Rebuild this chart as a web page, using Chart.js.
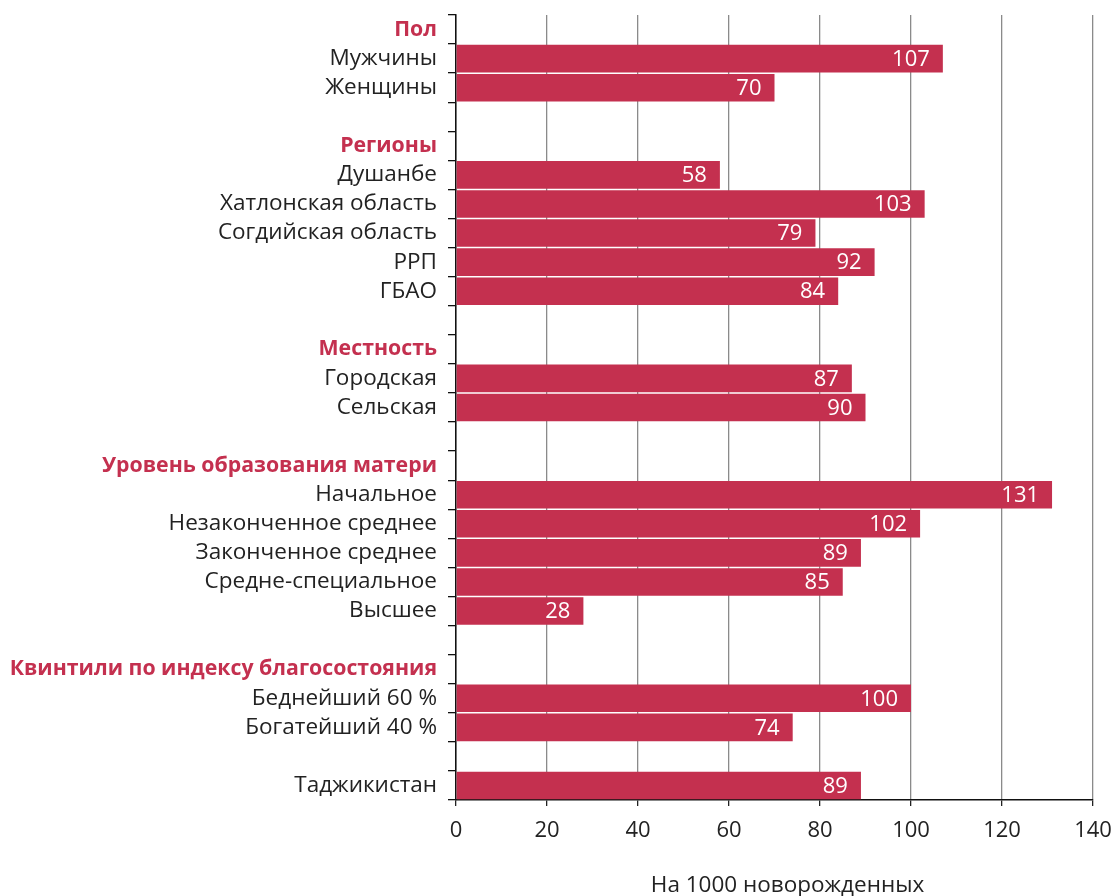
<!DOCTYPE html>
<html>
<head>
<meta charset="utf-8">
<script src="https://cdn.jsdelivr.net/npm/chart.js@4/dist/chart.umd.min.js"></script>
<style>
  html, body { margin: 0; padding: 0; background: #fff; }
  #wrap { width: 1116px; height: 896px; }
</style>
</head>
<body>
<div id="wrap"><canvas id="myChart" width="1116" height="896"></canvas></div>
<script>
"use strict";

// rows from top to bottom; '' rows are spacers between groups
const categories = [
    'Пол', 'Мужчины', 'Женщины', '',
    'Регионы', 'Душанбе', 'Хатлонская область', 'Согдийская область', 'РРП', 'ГБАО', '',
    'Местность', 'Городская', 'Сельская', '',
    'Уровень образования матери', 'Начальное', 'Незаконченное среднее', 'Законченное среднее',
    'Средне-специальное', 'Высшее', '',
    'Квинтили по индексу благосостояния', 'Беднейший 60 %', 'Богатейший 40 %', '',
    'Таджикистан'
];
const values = [
    null, 107, 70, null,
    null, 58, 103, 79, 92, 84, null,
    null, 87, 90, null,
    null, 131, 102, 89, 85, 28, null,
    null, 100, 74, null,
    89
];
const groupHeaders = ['Пол', 'Регионы', 'Местность', 'Уровень образования матери', 'Квинтили по индексу благосостояния'];
const xMin = 0, xMax = 140, xStep = 20;
const xTitle = 'На 1000 новорожденных';

const red = '#c4304f';
const fontFamily = '"Open Sans", "Noto Sans", sans-serif';

const isHeader = (i) => groupHeaders.includes(categories[i]);

// white numbers at the end of each bar
const barValues = {
    id: 'barValues',
    afterDatasetsDraw(chart) {
        const ctx = chart.ctx;
        const meta = chart.getDatasetMeta(0);
        ctx.save();
        ctx.font = '22px ' + fontFamily;
        ctx.fillStyle = '#fff';
        ctx.textAlign = 'right';
        ctx.textBaseline = 'middle';
        meta.data.forEach(function(bar, i) {
            const v = chart.data.datasets[0].data[i];
            if (v == null) return;
            ctx.fillText(String(v), bar.x - 13, bar.y + 1);
        });
        ctx.restore();
    }
};

// axis caption under the x ticks, sitting a little right of centre
const xCaption = {
    id: 'xCaption',
    afterDraw(chart) {
        const ctx = chart.ctx;
        const area = chart.chartArea;
        ctx.save();
        ctx.font = '22.5px ' + fontFamily;
        ctx.fillStyle = '#222';
        ctx.textAlign = 'center';
        ctx.textBaseline = 'middle';
        ctx.fillText(xTitle, (area.left + area.right) / 2 + 13, 886);
        ctx.restore();
    }
};

const ctx = document.getElementById('myChart');
const myChart = new Chart(ctx, {
    type: 'bar',
    data: {
        labels: categories,
        datasets: [{
            data: values,
            backgroundColor: red,
            borderWidth: 0,
            barPercentage: 0.95,
            categoryPercentage: 1
        }]
    },
    options: {
        indexAxis: 'y',
        responsive: false,
        animation: false,
        devicePixelRatio: 1,
        layout: { padding: { top: 15, right: 23, left: 0, bottom: 0 } },
        plugins: {
            legend: { display: false },
            tooltip: { enabled: false }
        },
        scales: {
            x: {
                min: xMin,
                max: xMax,
                afterFit(scale) {
                    scale.height = 96;
                    scale.paddingLeft = 0;
                    scale.paddingRight = 0;
                },
                ticks: {
                    stepSize: xStep,
                    color: '#222',
                    padding: 12,
                    font: { family: fontFamily, size: 22 }
                },
                grid: {
                    color: '#8a8a8a',
                    lineWidth: 1.3,
                    tickColor: '#222',
                    tickLength: 6
                },
                border: { color: '#111', width: 1.5 }
            },
            y: {
                afterFit(scale) {
                    scale.width = 456;
                    scale.paddingTop = 0;
                    scale.paddingBottom = 0;
                },
                ticks: {
                    autoSkip: false,
                    padding: 11,
                    color: (c) => isHeader(c.index) ? red : '#222',
                    font: (c) => ({
                        family: fontFamily,
                        size: isHeader(c.index) ? 21.3 : 22.5,
                        weight: isHeader(c.index) ? 'bold' : 'normal'
                    })
                },
                grid: {
                    drawOnChartArea: false,
                    color: '#111',
                    tickLength: 8,
                    lineWidth: 1.3
                },
                border: { color: '#111', width: 1.5 }
            }
        }
    },
    plugins: [barValues, xCaption]
});
</script>
</body>
</html>
